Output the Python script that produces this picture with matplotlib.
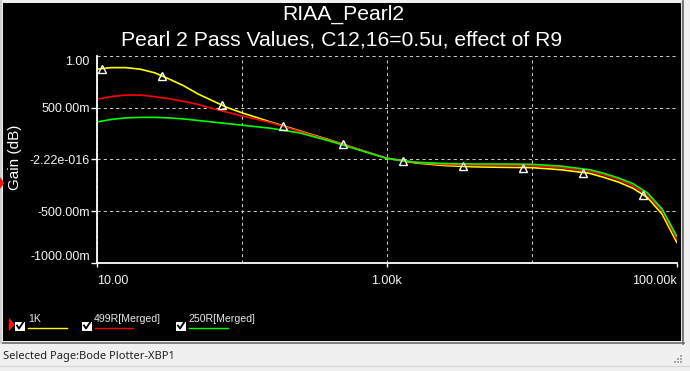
import numpy as np
import matplotlib
matplotlib.use("Agg")
import matplotlib.pyplot as plt
from matplotlib.patches import Rectangle, Polygon

# ---------------- data ----------------
freq = [10, 12.59, 15.85, 19.95, 25.12, 31.62, 39.81, 50.12, 63.1, 79.43,
        100, 158.5, 251.2, 398.1, 631, 1000, 1585, 2512, 3981, 6310,
        10000, 15850, 25120, 31620, 39810, 50120, 63100, 79430, 100000]

gain_1k = [0.87, 0.885, 0.885, 0.87, 0.835, 0.775, 0.71, 0.63, 0.565, 0.50,
           0.45, 0.36, 0.275, 0.19, 0.10, 0.01, -0.035, -0.06, -0.072, -0.077,
           -0.08, -0.10, -0.135, -0.175, -0.22, -0.28, -0.37, -0.53, -0.80]

gain_499r = [0.58, 0.605, 0.62, 0.62, 0.605, 0.585, 0.56, 0.53, 0.49, 0.455,
             0.42, 0.355, 0.27, 0.185, 0.10, 0.01, -0.03, -0.05, -0.058, -0.06,
             -0.063, -0.08, -0.115, -0.15, -0.195, -0.255, -0.345, -0.50, -0.77]

gain_250r = [0.36, 0.385, 0.40, 0.405, 0.405, 0.40, 0.39, 0.375, 0.36, 0.345,
             0.33, 0.30, 0.255, 0.18, 0.095, 0.01, -0.028, -0.04, -0.045, -0.045,
             -0.048, -0.065, -0.10, -0.135, -0.18, -0.235, -0.325, -0.48, -0.74]

marker_freq = [10.9, 28.3, 73.3, 193, 500, 1297, 3365, 8730, 22650, 58750]

series_labels = ["1K", "499R[Merged]", "250R[Merged]"]
series_colors = ["#ffff00", "#ff0000", "#00ff00"]

x_ticks = [10, 100, 1000, 10000, 100000]
x_ticklabels = ["10.00", "", "1.00k", "", "100.00k"]
y_ticks = [1.0, 0.5, 0.0, -0.5, -1.0]
y_ticklabels = ["1.00", "500.00m", "-2.22e-016", "-500.00m", "-1000.00m"]

title1 = "RIAA_Pearl2"
title2 = "Pearl 2 Pass Values, C12,16=0.5u, effect of R9"
ylabel = "Gain (dB)"
status = "Selected Page:Bode Plotter-XBP1"

# ---------------- figure ----------------
W, H = 690, 371
fig = plt.figure(figsize=(W / 100, H / 100), dpi=100, facecolor="#f0f0f0")
font = "Liberation Sans"


def fx(x):
    return x / W


def fy(y):
    return 1 - y / H


# black panel with frame
fig.patches.append(Rectangle((fx(3), fy(341)), fx(681) - fx(3), fy(3) - fy(341),
                             transform=fig.transFigure, facecolor="black",
                             edgecolor="none", zorder=-10))
fig.add_artist(plt.Line2D([fx(681.5), fx(681.5)], [fy(342), fy(1)], color="#a0a0a0",
                          lw=1.0, transform=fig.transFigure, zorder=-5))
fig.add_artist(plt.Line2D([fx(683), fx(683)], [fy(343.5), fy(1)], color="#6a6a6a",
                          lw=1.2, transform=fig.transFigure, zorder=-5))
fig.add_artist(plt.Line2D([fx(2), fx(682)], [fy(341.5), fy(341.5)], color="#e8e8e8",
                          lw=1.0, transform=fig.transFigure, zorder=-5))
fig.add_artist(plt.Line2D([fx(1), fx(683.5)], [fy(343.2), fy(343.2)], color="#6a6a6a",
                          lw=1.2, transform=fig.transFigure, zorder=-5))
fig.add_artist(plt.Line2D([fx(0), fx(690)], [fy(366), fy(366)], color="#d8d8d8",
                          lw=1.0, transform=fig.transFigure, zorder=-5))
fig.add_artist(plt.Line2D([fx(1.2), fx(1.2)], [fy(343), fy(0)], color="#d0d0d0",
                          lw=1.5, transform=fig.transFigure, zorder=-5))

# red selection arrows at left
fig.patches.append(Polygon([(fx(0), fy(177)), (fx(4.5), fy(183)), (fx(0), fy(189))],
                           closed=True, transform=fig.transFigure, facecolor="#ff1010",
                           edgecolor="none", zorder=3))
fig.patches.append(Polygon([(fx(9), fy(318)), (fx(15), fy(324.5)), (fx(9), fy(331))],
                           closed=True, transform=fig.transFigure, facecolor="#ff1010",
                           edgecolor="none", zorder=3))

# resize grip dots
for (gx, gy) in [(681, 356), (678, 359), (681, 359), (675, 362), (678, 362), (681, 362)]:
    fig.patches.append(Rectangle((fx(gx - 1), fy(gy + 1)), fx(2), 2 / H,
                                 transform=fig.transFigure, facecolor="#a8a8a8",
                                 edgecolor="none"))

# ---------------- axes ----------------
ax = fig.add_axes([fx(96.7), fy(263), fx(676.7) - fx(96.7), fy(55.7) - fy(263)])
ax.set_zorder(1)
ax.set_facecolor("black")
ax.set_xscale("log")
ax.set_xlim(10, 100000)
ax.set_ylim(-1.0, 1.0)

for vals, col in zip([gain_1k, gain_499r, gain_250r], series_colors):
    ax.plot(freq, vals, color=col, lw=1.2, zorder=3)

# cursor markers on the selected (1K) trace
mk_y = np.interp(np.log10(marker_freq), np.log10(freq), gain_1k)
ax.plot(marker_freq, mk_y, linestyle="none", marker="^", markersize=6,
        markerfacecolor="none", markeredgecolor="white", markeredgewidth=1.0, zorder=4)

ax.set_xticks(x_ticks)
ax.set_xticklabels(x_ticklabels)
ax.xaxis.set_minor_locator(matplotlib.ticker.NullLocator())
ax.set_yticks(y_ticks)
ax.set_yticklabels(y_ticklabels)

ax.tick_params(axis="x", colors="white", direction="out", length=3, width=1,
               pad=6, labelsize=9)
ax.tick_params(axis="y", colors="white", direction="out", length=4, width=1,
               pad=1, labelsize=9)
for lab in ax.get_xticklabels() + ax.get_yticklabels():
    lab.set_fontfamily(font)
    lab.set_color("#f4f4f4")

xt = ax.xaxis.get_major_ticks()
for i in (1, 3):
    xt[i].tick1line.set_visible(False)
xl = ax.get_xticklabels()
xl[0].set_ha("left")
xl[2].set_ha("center")
xl[4].set_ha("right")
yt = ax.yaxis.get_major_ticks()
yt[0].tick1line.set_visible(False)
yl = ax.get_yticklabels()
yl[0].set_va("top")
yl[4].set_va("bottom")

ax.grid(True, color="#c8c8c8", linestyle=(0, (3, 3)), linewidth=0.75)
for sp in ("top", "right"):
    ax.spines[sp].set_visible(False)
for sp in ("left", "bottom"):
    ax.spines[sp].set_color("white")
    ax.spines[sp].set_linewidth(1.3)
    ax.spines[sp].set_zorder(5)

# ---------------- texts ----------------
fig.text(fx(343), fy(14), title1, color="white", fontsize=15.2, family=font,
         ha="center", va="center")
fig.text(fx(342), fy(40), title2, color="white", fontsize=15.2, family=font,
         ha="center", va="center")
fig.text(fx(15), fy(157), ylabel, color="white", fontsize=11, family=font,
         rotation=90, ha="center", va="center")
fig.text(fx(3), fy(356), status, color="#202020", fontsize=8.0, family="Noto Sans",
         ha="left", va="center")

# ---------------- legend ----------------
leg_box_x = [15, 82, 176]
leg_text_x = [28, 94, 189]
leg_line_x = [(28, 67), (95, 133), (189, 228)]
for i, (lab, col) in enumerate(zip(series_labels, series_colors)):
    bx = leg_box_x[i]
    fig.patches.append(Rectangle((fx(bx), fy(331)), fx(9.5), 9.5 / H,
                                 transform=fig.transFigure, facecolor="white",
                                 edgecolor="none", zorder=3))
    fig.add_artist(plt.Line2D([fx(bx + 2), fx(bx + 4), fx(bx + 8)],
                              [fy(325.5), fy(328.5), fy(322.5)], color="black",
                              lw=1.3, transform=fig.transFigure, zorder=4))
    fig.text(fx(leg_text_x[i]), fy(319), lab, color="#e8e8e8", fontsize=7.6,
             family=font, ha="left", va="center")
    x0, x1 = leg_line_x[i]
    fig.add_artist(plt.Line2D([fx(x0), fx(x1)], [fy(328.3), fy(328.3)], color=col,
                              lw=1.0, transform=fig.transFigure))

fig.savefig("out.png", dpi=100, facecolor=fig.get_facecolor())
